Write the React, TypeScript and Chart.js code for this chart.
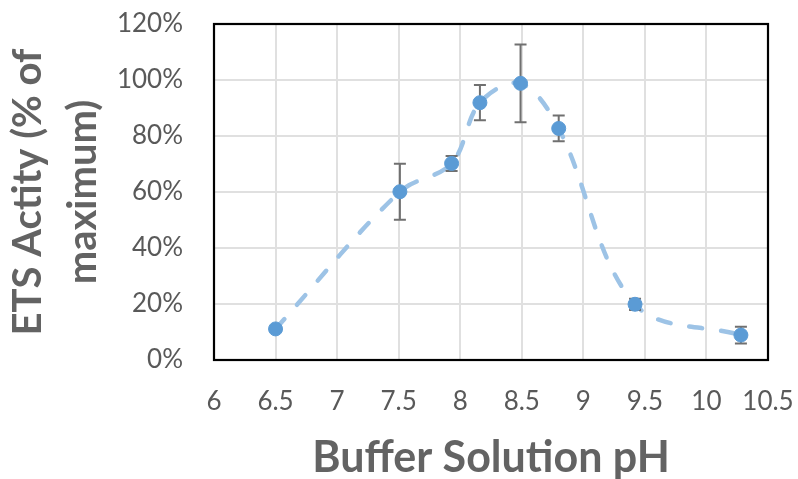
import React, { useEffect, useRef } from 'react';
import { Chart, registerables } from 'chart.js';

Chart.register(...registerables);

// ---- Data ----
const phValues = [6.5, 7.51, 7.93, 8.16, 8.49, 8.8, 9.42, 10.28];
const activityPct = [11.1, 60.1, 70.2, 91.9, 98.8, 82.7, 19.9, 8.9];
const errorPct = [0, 10.0, 2.7, 6.3, 13.9, 4.6, 2.0, 3.0];

const xMin = 6;
const xMax = 10.5;
const xStep = 0.5;
const yMin = 0;
const yMax = 120;
const yStep = 20;

const xTitle = 'Buffer Solution pH';
const yTitle = ['ETS Actity (% of', 'maximum)'];

const FONT = 'Lato';
const TEXT_COLOR = '#595959';
const TITLE_COLOR = '#636363';

const errorBarPlugin = {
  id: 'errorBars',
  afterDatasetDraw(chart: any, args: any) {
    if (args.index !== 1) return;
    const { ctx, scales } = chart;
    const xs = scales.x;
    const ys = scales.y;
    ctx.save();
    ctx.strokeStyle = '#707070';
    ctx.lineWidth = 2;
    const cap = 6;
    for (let i = 0; i < phValues.length; i++) {
      const e = errorPct[i];
      if (!e) continue;
      const x = xs.getPixelForValue(phValues[i]);
      const yt = ys.getPixelForValue(activityPct[i] + e);
      const yb = ys.getPixelForValue(activityPct[i] - e);
      ctx.beginPath();
      ctx.moveTo(x, yt);
      ctx.lineTo(x, yb);
      ctx.moveTo(x - cap, yt);
      ctx.lineTo(x + cap, yt);
      ctx.moveTo(x - cap, yb);
      ctx.lineTo(x + cap, yb);
      ctx.stroke();
    }
    ctx.restore();
  },
};

const frameBorderPlugin = {
  id: 'frameBorder',
  beforeDatasetsDraw(chart: any) {
    const { ctx, chartArea } = chart;
    ctx.save();
    ctx.strokeStyle = '#000000';
    ctx.lineWidth = 2.2;
    ctx.strokeRect(
      chartArea.left,
      chartArea.top,
      chartArea.right - chartArea.left,
      chartArea.bottom - chartArea.top
    );
    ctx.restore();
  },
};

export default function App() {
  const canvasRef = useRef<HTMLCanvasElement | null>(null);

  useEffect(() => {
    if (!canvasRef.current) return;
    const points = phValues.map((x, i) => ({ x, y: activityPct[i] }));
    const chart = new Chart(canvasRef.current, {
      type: 'line',
      data: {
        datasets: [
          {
            label: 'markers',
            data: points,
            showLine: false,
            pointRadius: 7,
            pointBorderWidth: 1,
            pointBackgroundColor: '#5B9BD5',
            pointBorderColor: '#5B9BD5',
            pointHoverRadius: 7,
          },
          {
            label: 'curve',
            data: points,
            borderColor: '#9DC3E6',
            borderWidth: 4.5,
            borderDash: [13, 19],
            borderCapStyle: 'round',
            tension: 0.35,
            pointRadius: 0,
            fill: false,
          },
        ],
      },
      options: {
        animation: false,
        responsive: false,
        events: [],
        layout: { padding: { top: 24, right: 30, left: 0, bottom: 0 } },
        plugins: {
          legend: { display: false },
          tooltip: { enabled: false },
        },
        scales: {
          x: {
            type: 'linear',
            min: xMin,
            max: xMax,
            afterFit(scale: any) {
              scale.height = 119;
            },
            ticks: {
              stepSize: xStep,
              callback: (v: any) => `${v}`,
              color: TEXT_COLOR,
              font: { family: FONT, size: 26 },
              padding: 0,
              maxRotation: 0,
              autoSkip: false,
            },
            grid: {
              color: '#e0e0e0',
              lineWidth: 2,
              drawTicks: true,
              tickLength: 26,
              tickColor: 'rgba(0,0,0,0)',
            },
            border: { display: false },
            title: {
              display: true,
              text: xTitle,
              color: TITLE_COLOR,
              font: { family: FONT, size: 43, weight: 'bold', lineHeight: 1 },
              padding: { top: 0, bottom: -1 },
            },
          },
          y: {
            type: 'linear',
            min: yMin,
            max: yMax,
            afterFit(scale: any) {
              scale.width = 214;
            },
            ticks: {
              stepSize: yStep,
              callback: (v: any) => `${v}%`,
              color: TEXT_COLOR,
              font: { family: FONT, size: 26 },
              padding: 0,
            },
            grid: {
              color: '#e0e0e0',
              lineWidth: 2,
              drawTicks: true,
              tickLength: 31,
              tickColor: 'rgba(0,0,0,0)',
            },
            border: { display: false },
            title: {
              display: true,
              text: yTitle,
              color: TITLE_COLOR,
              font: { family: FONT, size: 40, weight: 'bold', lineHeight: 1.375 },
              padding: { top: 1, bottom: 0 },
            },
          },
        },
      },
      plugins: [frameBorderPlugin, errorBarPlugin],
    } as any);
    return () => chart.destroy();
  }, []);

  return (
    <div style={{ position: 'absolute', left: 0, top: 0, width: 798, height: 479, background: '#ffffff' }}>
      <canvas ref={canvasRef} width={798} height={479} style={{ display: 'block' }} />
    </div>
  );
}
